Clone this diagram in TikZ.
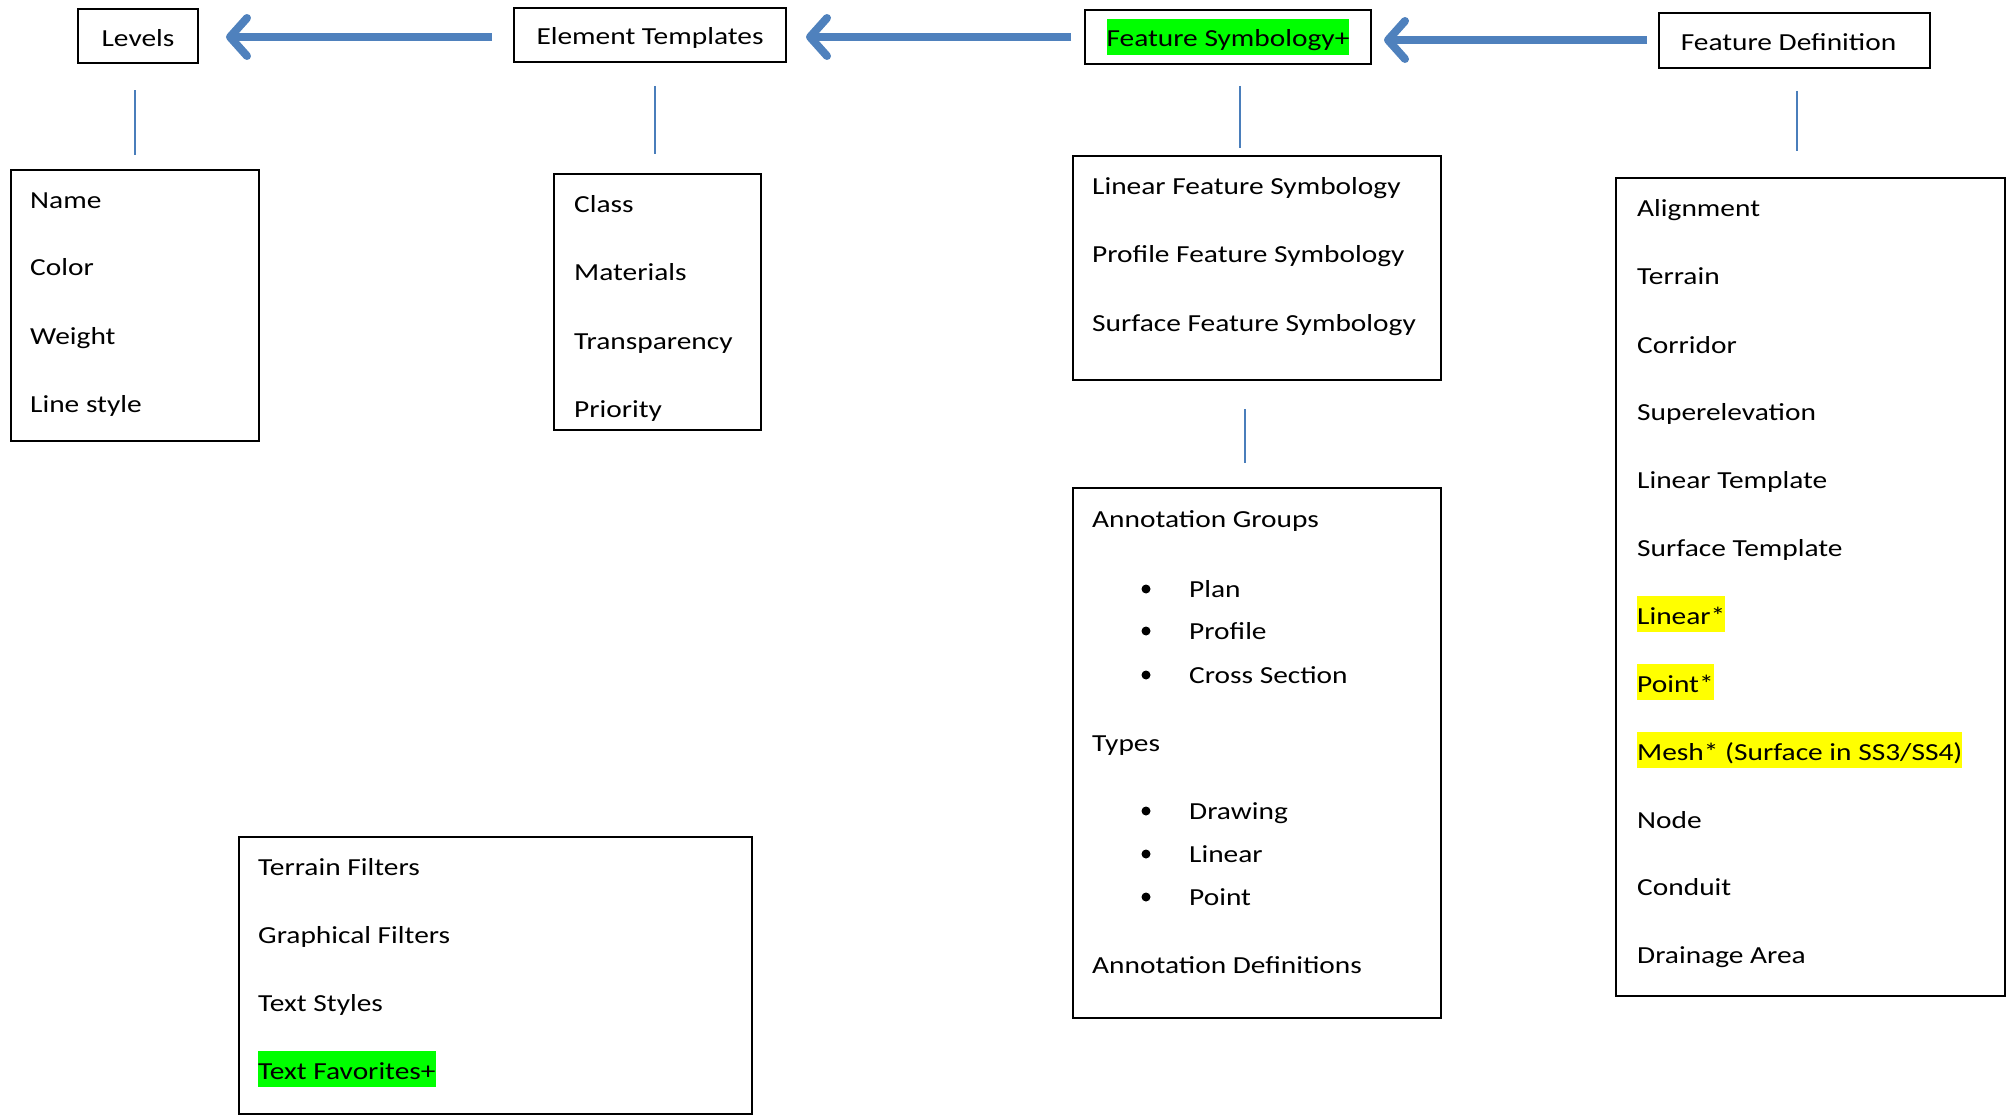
\documentclass[tikz,border=0pt]{standalone}
\usepackage{fontspec}
\setmainfont{Carlito}[FakeStretch=1.2]
\usetikzlibrary{arrows.meta}
\definecolor{arrowblue}{HTML}{4F81BD}
\definecolor{lineblue}{HTML}{4A7EBB}
\definecolor{hlgreen}{HTML}{00FF00}
\definecolor{hlyellow}{HTML}{FFFF00}
\newcommand{\hlg}[1]{{\setlength{\fboxsep}{0pt}\colorbox{hlgreen}{\rule[-8pt]{0pt}{36pt}#1}}}
\newcommand{\hly}[1]{{\setlength{\fboxsep}{0pt}\colorbox{hlyellow}{\rule[-8pt]{0pt}{36pt}#1}}}
\tikzset{
  hdr/.style={draw=black, line width=2pt, minimum height=54pt, inner sep=0pt, text height=20pt, text depth=0pt, font=\fontsize{24.5}{30}\selectfont},
  listbox/.style={draw=black, line width=2pt, anchor=north west, inner sep=0pt},
  item/.style={anchor=base west, inner sep=0pt, yshift=-2pt, font=\fontsize{24.5}{30}\selectfont},
  bul/.style={circle, fill=black, inner sep=0pt, minimum size=9pt, yshift=-2pt},
  bigarrow/.style={draw=arrowblue, line width=8pt, -{Straight Barb[length=17pt, width=38pt, round]}},
  thin/.style={draw=lineblue, line width=1.6pt},
}
\begin{document}
\begin{tikzpicture}[x=1pt, y=-1pt]
\useasboundingbox (0,0) rectangle (2013,1115);
% header boxes
\node[hdr, minimum width=120pt] (levels) at (138,36.5) {Levels};
\node[hdr, minimum width=272pt] (et) at (650,35) {Element Templates};
\node[hdr, minimum width=286pt] (fs) at (1228,37) {\hlg{Feature Symbology+}};
\node[hdr, minimum width=271pt, minimum height=55pt] (fd) at (1794.5,40.5) {Feature Definition\hspace*{12pt}};
% list boxes
\node[listbox, minimum width=248pt, minimum height=271pt] (lvlist) at (10,169) {};
\node[listbox, minimum width=207pt, minimum height=256pt] (etlist) at (553,173) {};
\node[listbox, minimum width=368pt, minimum height=224pt] (fslist) at (1072,155) {};
\node[listbox, minimum width=368pt, minimum height=530pt] (anlist) at (1072,487) {};
\node[listbox, minimum width=389pt, minimum height=818pt] (fdlist) at (1615,177) {};
\node[listbox, minimum width=513pt, minimum height=277pt] (filt) at (238,836) {};
% arrows
\draw[bigarrow, shorten <=21pt, shorten >=27pt] (et.west |- 0,37) -- (levels.east |- 0,37);
\draw[bigarrow, shorten <=13pt, shorten >=19pt] (fs.west |- 0,37) -- (et.east |- 0,37);
\draw[bigarrow, shorten <=11pt, shorten >=12pt] (fd.west |- 0,40) -- (fs.east |- 0,40);
% thin connectors
\draw[thin, shorten <=26pt, shorten >=14pt] (levels.south) ++(-3,0) coordinate (l1) -- (l1 |- lvlist.north);
\draw[thin, shorten <=23pt, shorten >=19pt] (et.south) ++(5,0) coordinate (l2) -- (l2 |- etlist.north);
\draw[thin, shorten <=21pt, shorten >=7pt] (fs.south) ++(12,0) coordinate (l3) -- (l3 |- fslist.north);
\draw[thin, shorten <=22pt, shorten >=26pt] (fd.south) ++(2.5,0) coordinate (l4) -- (l4 |- fdlist.north);
\draw[thin, shorten <=28pt, shorten >=24pt] (fslist.south) ++(-12,0) coordinate (l5) -- (l5 |- anlist.north);
% Levels list
\node[item] (n1) at (30,207) {Name};
\node[item] (n2) at (30,274) {Color};
\node[item] (n3) at (30,342) {Weight};
\node[item] (n4) at (30,410) {Line style};
% Element templates list
\node[item] (e1) at (574,211) {Class};
\node[item] (e2) at (574,279) {Materials};
\node[item] (e3) at (574,347) {Transparency};
\node[item] (e4) at (574,415) {Priority};
% Feature symbology list
\node[item] (s1) at (1092,193) {Linear Feature Symbology};
\node[item] (s2) at (1092,261) {Profile Feature Symbology};
\node[item] (s3) at (1092,329) {Surface Feature Symbology};
% Annotation list
\node[item] (a1) at (1092,525) {Annotation Groups};
\node[bul] (b1) at (1146,587) {};
\node[item] (a2) at (1189,595) {Plan};
\node[bul] (b2) at (1146,629) {};
\node[item] (a3) at (1189,637) {Profile};
\node[bul] (b3) at (1146,673) {};
\node[item] (a4) at (1189,681) {Cross Section};
\node[item] (a5) at (1092,749) {Types};
\node[bul] (b4) at (1146,809) {};
\node[item] (a6) at (1189,817) {Drawing};
\node[bul] (b5) at (1146,852) {};
\node[item] (a7) at (1189,860) {Linear};
\node[bul] (b6) at (1146,895) {};
\node[item] (a8) at (1189,903) {Point};
\node[item] (a9) at (1092,971) {Annotation Definitions};
% Feature definition list
\node[item] (d1) at (1637,215) {Alignment};
\node[item] (d2) at (1637,283) {Terrain};
\node[item] (d3) at (1637,351) {Corridor};
\node[item] (d4) at (1637,418) {Superelevation};
\node[item] (d5) at (1637,486) {Linear Template};
\node[item] (d6) at (1637,554) {Surface Template};
\node[item] (d7) at (1637,622) {\hly{Linear*}};
\node[item] (d8) at (1637,690) {\hly{Point*}};
\node[item] (d9) at (1637,758) {\hly{Mesh* (Surface in SS3/SS4)}};
\node[item] (d10) at (1637,826) {Node};
\node[item] (d11) at (1637,893) {Conduit};
\node[item] (d12) at (1637,961) {Drainage Area};
% Filters list
\node[item] (f1) at (258,873) {Terrain Filters};
\node[item] (f2) at (258,941) {Graphical Filters};
\node[item] (f3) at (258,1009) {Text Styles};
\node[item] (f4) at (258,1077) {\hlg{Text Favorites+}};
\end{tikzpicture}
\end{document}
